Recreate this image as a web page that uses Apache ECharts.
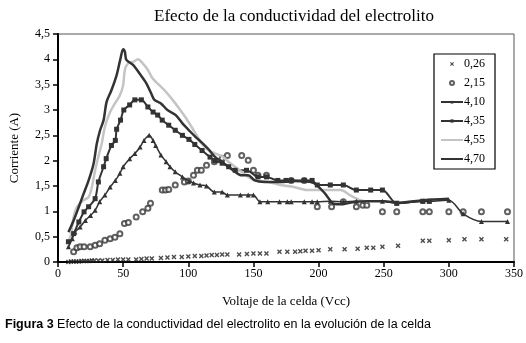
<!DOCTYPE html>
<html>
<head>
<meta charset="utf-8">
<script src="https://cdn.jsdelivr.net/npm/echarts@6/dist/echarts.min.js"></script>
<style>
  html, body { margin: 0; padding: 0; background: #fff; }
  #main { width: 526px; height: 343px; }
</style>
</head>
<body>
<div id="main"></div>
<script>
// ticks
var xTicks = [0, 50, 100, 150, 200, 250, 300, 350];
var yTicks = [0, 0.5, 1, 1.5, 2, 2.5, 3, 3.5, 4, 4.5];

// 0,26
var volt026 = [8, 10, 12, 14, 16, 18, 20, 22, 24, 26, 28, 31, 34, 38, 42, 46, 50, 54, 60, 64, 68, 72, 79, 84, 89, 95, 100, 105, 110, 114, 118, 122, 126, 130, 139, 145, 150, 155, 160, 170, 176, 182, 186, 190, 195, 200, 209, 220, 230, 237, 242, 249, 261, 280, 285, 300, 312, 325, 344];
var amp026 = [0.0, 0.01, 0.01, 0.01, 0.01, 0.02, 0.02, 0.02, 0.02, 0.03, 0.03, 0.03, 0.03, 0.04, 0.04, 0.05, 0.05, 0.05, 0.05, 0.06, 0.07, 0.07, 0.08, 0.09, 0.1, 0.1, 0.11, 0.12, 0.12, 0.13, 0.14, 0.14, 0.15, 0.15, 0.15, 0.16, 0.17, 0.17, 0.17, 0.2, 0.2, 0.2, 0.21, 0.22, 0.22, 0.23, 0.25, 0.25, 0.26, 0.28, 0.28, 0.3, 0.32, 0.42, 0.42, 0.43, 0.45, 0.45, 0.45];

// 2,15
var volt215 = [12, 14.5, 17, 20, 24.7, 28.5, 32, 36, 40, 43.7, 47.5, 51, 54, 60, 65, 69, 71, 80, 82.5, 85, 90, 97, 100, 104, 107, 110, 114, 120, 126, 130, 141, 146, 150, 153.5, 160, 179, 189, 199, 210, 219, 229, 234, 237, 249, 260, 280, 285, 300, 311, 325, 345];
var amp215 = [0.2, 0.28, 0.3, 0.3, 0.3, 0.33, 0.36, 0.43, 0.46, 0.49, 0.56, 0.76, 0.78, 0.89, 0.99, 1.06, 1.16, 1.42, 1.42, 1.43, 1.52, 1.58, 1.6, 1.71, 1.81, 1.81, 1.91, 1.98, 2.05, 2.1, 2.1, 2.01, 1.81, 1.71, 1.71, 1.61, 1.61, 1.09, 1.09, 1.19, 1.09, 1.12, 1.12, 0.99, 0.99, 0.99, 0.99, 0.99, 0.99, 0.99, 0.99];

// 4,10
var volt410 = [8, 11, 13, 17, 21, 25, 28.5, 32, 36, 40, 44, 47.5, 50, 55, 59, 63, 66, 70, 73, 75, 79, 83, 86, 90, 95.5, 100.5, 104, 109, 114, 120, 126, 130, 140, 146, 150, 155, 161, 170, 176, 179, 189, 195, 199, 209, 219, 229, 249, 260, 280, 285, 300, 311, 325, 345];
var amp410 = [0.3, 0.46, 0.59, 0.69, 0.82, 0.92, 1.02, 1.19, 1.32, 1.48, 1.61, 1.75, 1.88, 2.04, 2.14, 2.27, 2.4, 2.5, 2.4, 2.3, 2.11, 1.98, 1.88, 1.78, 1.68, 1.6, 1.56, 1.52, 1.5, 1.38, 1.38, 1.32, 1.32, 1.32, 1.32, 1.19, 1.19, 1.19, 1.19, 1.19, 1.19, 1.19, 1.19, 1.2, 1.19, 1.2, 1.2, 1.16, 1.2, 1.2, 1.22, 0.95, 0.8, 0.8];

// 4,35
var volt435 = [8, 12, 16, 20, 23.5, 28.5, 31, 35, 37, 41, 44, 45, 48, 50.5, 55, 59, 64, 69, 73, 76.5, 80, 85, 90, 95.5, 100.5, 105, 110.6, 116.7, 120.5, 126, 131, 136, 144.7, 153.5, 160, 168.7, 175, 179, 189, 195, 199, 209, 219, 229, 240, 249, 260, 280, 285];
var amp435 = [0.4, 0.56, 0.79, 0.99, 1.09, 1.25, 1.58, 1.88, 2.04, 2.3, 2.4, 2.62, 2.8, 3.0, 3.1, 3.2, 3.2, 3.06, 2.96, 2.9, 2.8, 2.7, 2.6, 2.5, 2.42, 2.32, 2.2, 2.07, 2.0, 1.95, 1.88, 1.81, 1.81, 1.68, 1.68, 1.61, 1.61, 1.61, 1.61, 1.61, 1.52, 1.52, 1.52, 1.42, 1.42, 1.42, 1.16, 1.2, 1.2];

// 4,55
var volt455 = [7, 9.6, 12, 14.6, 19.7, 23.5, 26, 28.5, 31, 33.6, 36, 40, 43.7, 47.5, 50, 51.3, 53.8, 57.6, 61.4, 65, 69, 72.7, 77.8, 82.8, 88, 93, 98, 101.7, 105.5, 110.6, 115.7, 120.7, 125.8, 130.8, 135.8, 141, 146, 151, 161, 171, 181, 191, 201, 211, 217, 224, 232, 238];
var amp455 = [0.37, 0.5, 0.89, 1.09, 1.22, 1.28, 1.48, 1.81, 2.08, 2.34, 2.67, 2.96, 3.13, 3.29, 3.49, 3.79, 3.92, 3.95, 4.0, 3.92, 3.79, 3.62, 3.49, 3.36, 3.2, 3.03, 2.85, 2.7, 2.54, 2.33, 2.2, 2.14, 2.09, 1.98, 1.88, 1.78, 1.68, 1.61, 1.58, 1.52, 1.48, 1.42, 1.42, 1.42, 1.42, 1.32, 1.22, 1.19];

// 4,70
var volt470 = [8, 12, 16, 19.7, 23.5, 27.3, 29.8, 32.3, 35, 37.3, 41, 45, 48, 50, 51.3, 52.5, 57.6, 62.6, 67.7, 71.5, 74, 79, 84, 90.4, 96, 100.5, 105.5, 110.6, 115.7, 120.7, 125.8, 130.8, 135.8, 141, 146, 151, 158.6, 171, 181, 191, 197, 205, 211.6, 218, 228, 238, 250, 262, 280, 300];
var amp470 = [0.59, 0.82, 1.09, 1.35, 1.61, 1.94, 2.34, 2.6, 2.8, 3.16, 3.39, 3.69, 4.02, 4.2, 4.15, 3.99, 3.89, 3.72, 3.53, 3.33, 3.2, 3.13, 3.0, 2.9, 2.72, 2.6, 2.47, 2.35, 2.22, 2.07, 1.98, 1.88, 1.78, 1.71, 1.71, 1.61, 1.58, 1.58, 1.6, 1.59, 1.55, 1.35, 1.15, 1.14, 1.19, 1.2, 1.2, 1.17, 1.22, 1.25];

function pairs(xs, ys) {
  return xs.map(function (x, i) { return [x, ys[i]]; });
}

var serif = 'Liberation Serif';
var cross = 'path://M0,2L2,0L5,3L8,0L10,2L7,5L10,8L8,10L5,7L2,10L0,8L3,5Z';

var myChart = echarts.init(document.getElementById('main'));
myChart.setOption({
  animation: false,
  title: {
    text: 'Efecto de la conductividad del electrolito',
    left: 289,
    textAlign: 'center',
    top: 3,
    textStyle: { fontFamily: serif, fontSize: 17, fontWeight: 'normal', color: '#000' }
  },
  legend: {
    orient: 'vertical',
    left: 434,
    top: 54,
    backgroundColor: '#fff',
    borderColor: '#000',
    borderWidth: 1.2,
    borderRadius: 0,
    padding: [3, 10, 3, 6],
    itemGap: 5,
    itemWidth: 22,
    itemHeight: 4,
    selectedMode: false,
    textStyle: { fontFamily: serif, fontSize: 12, lineHeight: 14, color: '#000', padding: [0, 0, 0, -4] },
    data: [
      '0,26', '2,15', '4,10', '4,35',
      { name: '4,55', itemStyle: { opacity: 0 } },
      { name: '4,70', itemStyle: { opacity: 0 } }
    ]
  },
  grid: {
    left: 54, right: 10, top: 34, bottom: 81,
    show: true, borderColor: '#555', borderWidth: 1, backgroundColor: 'transparent'
  },
  graphic: [{
    type: 'text',
    left: 5,
    top: 318,
    style: {
      text: '{b|Figura 3} Efecto de la conductividad del electrolito en la evolución de la celda',
      fontFamily: 'Liberation Sans',
      fontSize: 12.5,
      fill: '#000',
      rich: { b: { fontFamily: 'Liberation Sans', fontSize: 12.5, fontWeight: 'bold', fill: '#000' } }
    }
  }],
  xAxis: {
    type: 'value',
    min: xTicks[0], max: xTicks[xTicks.length - 1], interval: 50,
    name: 'Voltaje de la celda (Vcc)',
    nameLocation: 'middle',
    nameGap: 33,
    nameTextStyle: { fontFamily: serif, fontSize: 13, color: '#000' },
    axisLine: { lineStyle: { color: '#000', width: 2 } },
    axisTick: { inside: false, length: 5, lineStyle: { color: '#000', width: 1.5 } },
    axisLabel: { fontFamily: serif, fontSize: 12, color: '#000', margin: 6 },
    splitLine: { show: false }
  },
  yAxis: {
    type: 'value',
    min: yTicks[0], max: yTicks[yTicks.length - 1], interval: 0.5,
    name: 'Corriente (A)',
    nameLocation: 'middle',
    nameGap: 37,
    nameTextStyle: { fontFamily: serif, fontSize: 13, color: '#000' },
    axisLine: { show: true, lineStyle: { color: '#000', width: 2 } },
    axisTick: { show: true, inside: false, length: 5, lineStyle: { color: '#000', width: 1.5 } },
    axisLabel: {
      fontFamily: serif, fontSize: 12, color: '#000', margin: 8,
      formatter: function (v) { return String(v).replace('.', ','); }
    },
    splitLine: { show: false }
  },
  series: [
    {
      name: '0,26', type: 'scatter', symbol: cross, symbolSize: 5,
      itemStyle: { color: '#222' },
      data: pairs(volt026, amp026)
    },
    {
      name: '2,15', type: 'scatter', symbol: 'emptyCircle', symbolSize: 5,
      itemStyle: { color: '#3a3a3a', borderWidth: 1.3 },
      data: pairs(volt215, amp215)
    },
    {
      name: '4,10', type: 'line', smooth: 0.3, symbol: 'triangle', symbolSize: 5,
      lineStyle: { color: '#333', width: 1.5 },
      itemStyle: { color: '#333' },
      data: pairs(volt410, amp410)
    },
    {
      name: '4,35', type: 'line', smooth: 0.3, symbol: 'rect', symbolSize: 5,
      lineStyle: { color: '#333', width: 2 },
      itemStyle: { color: '#333' },
      data: pairs(volt435, amp435)
    },
    {
      name: '4,55', type: 'line', smooth: 0.3, symbol: 'none',
      lineStyle: { color: '#c4c4c4', width: 2.5 },
      itemStyle: { color: '#c4c4c4' },
      data: pairs(volt455, amp455)
    },
    {
      name: '4,70', type: 'line', smooth: 0.3, symbol: 'none',
      lineStyle: { color: '#333', width: 2.5 },
      itemStyle: { color: '#333' },
      data: pairs(volt470, amp470)
    }
  ]
});
</script>
</body>
</html>
